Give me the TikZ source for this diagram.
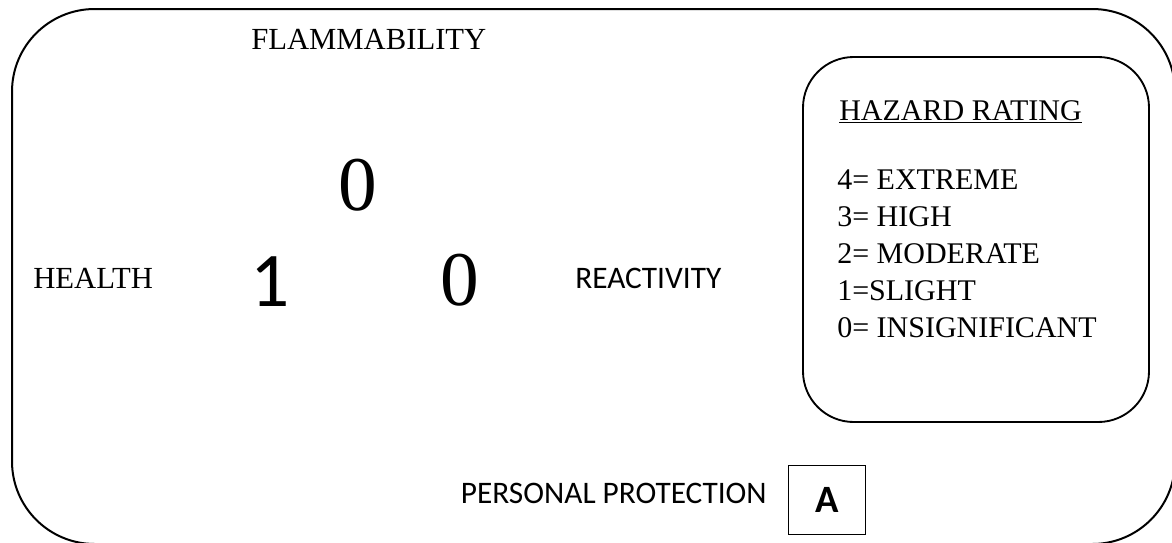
\documentclass[tikz,border=0pt]{standalone}
\usepackage{fontspec}
\setmainfont{Liberation Serif}
\newfontfamily\calibrifont{Carlito}
\usetikzlibrary{positioning}

\begin{document}
\begin{tikzpicture}[
  x=0.75pt, y=-0.75pt,
  outer_frame/.style = {line width=1.5pt, rounded corners=62pt},
  rating_frame/.style = {line width=1.4pt, rounded corners=38pt},
  serif_word/.style = {inner sep=0, font=\fontsize{23}{27}\selectfont},
  sans_word/.style = {inner sep=0, font=\calibrifont\fontsize{23.5}{27}\selectfont},
  big_digit/.style = {inner sep=0, font=\fontsize{58}{60}\selectfont},
  rating_line/.style = {inner sep=0, anchor=base west, font=\fontsize{22.5}{27}\selectfont},
  ppe_box/.style = {draw, line width=1.1pt, minimum width=58pt, minimum height=52pt, inner sep=0, font=\calibrifont\bfseries\fontsize{29}{30}\selectfont}
  ]

  \useasboundingbox (0,0) rectangle (1172,543);
  \clip (0,0) rectangle (1172,543);

  % frames
  \draw[outer_frame] (12,9) rectangle (1175,544);
  \draw[rating_frame] (803,57) rectangle (1149,422);

  % side words
  \node[serif_word, anchor=base west] (flammability) at (251,49) {FLAMMABILITY};
  \node[serif_word, anchor=base west] (health) at (33,288) {HEALTH};
  \node[sans_word, anchor=base west] (reactivity) at (575,288) {REACTIVITY};

  % ratings
  \node[big_digit, anchor=base] (flam_val) at (358,210) {0};
  \node[big_digit, anchor=base, font=\calibrifont\fontsize{58}{60}\selectfont] (health_val) at (270,306) {1};
  \node[big_digit, anchor=base] (react_val) at (460,305) {0};

  % personal protection
  \node[ppe_box] (ppe) at (827,500) {A};
  \node[sans_word, anchor=base east] (protection) at (767,503) {PERSONAL PROTECTION};

  % legend
  \node[rating_line] (legend_title) at (839,120) {\underline{HAZARD RATING}};
  \foreach \txt [count=\i] in {4= EXTREME, 3= HIGH, 2= MODERATE, 1=SLIGHT, 0= INSIGNIFICANT}
    \node[rating_line] (rate\i) at (837,{189+37*(\i-1)}) {\txt};

\end{tikzpicture}
\end{document}
